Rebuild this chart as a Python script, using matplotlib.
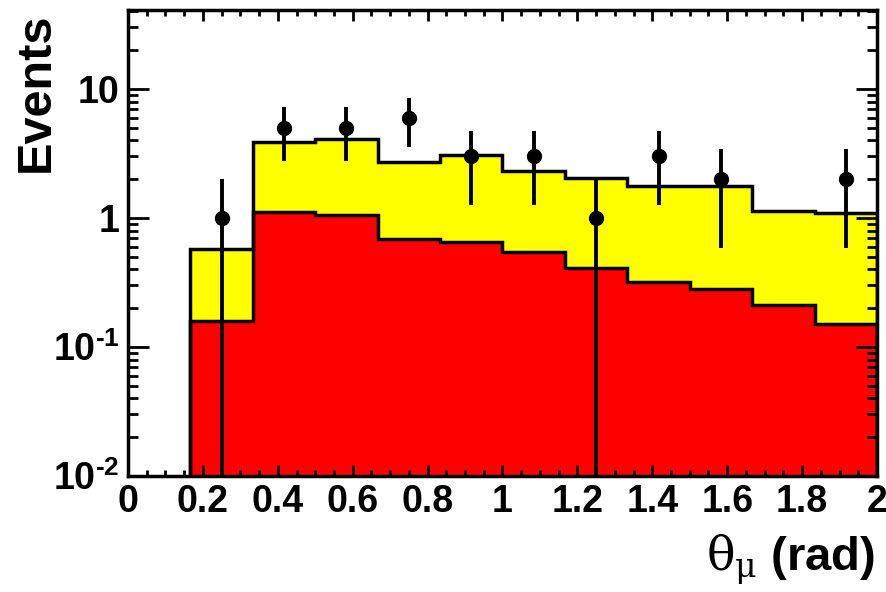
import matplotlib
matplotlib.use("Agg")
import matplotlib.pyplot as plt
from matplotlib.ticker import FixedLocator, FixedFormatter, MultipleLocator, LogLocator, NullFormatter
import numpy as np

plt.rcParams["font.family"] = ["Liberation Sans", "DejaVu Sans"]
plt.rcParams["font.weight"] = "bold"
plt.rcParams["mathtext.fontset"] = "custom"
plt.rcParams["mathtext.rm"] = "Liberation Sans:bold"
plt.rcParams["mathtext.bf"] = "Liberation Sans:bold"
plt.rcParams["mathtext.it"] = "DejaVu Serif:normal"

# ---- data ----
bin_edges = [1/6, 2/6, 3/6, 4/6, 5/6, 1.0, 7/6, 8/6, 9/6, 10/6, 11/6, 2.0]
total_mc = [0.58, 3.86, 4.07, 2.70, 3.06, 2.30, 2.04, 1.77, 1.77, 1.13, 1.10]   # yellow (stack top)
red_mc = [0.16, 1.11, 1.05, 0.69, 0.65, 0.55, 0.41, 0.32, 0.28, 0.21, 0.15]     # red component

data_x = [0.25, 5/12, 7/12, 0.75, 11/12, 13/12, 1.25, 17/12, 19/12, 23/12]
data_n = [1, 5, 5, 6, 3, 3, 1, 3, 2, 2]
data_err = [1.0, 2.24, 2.24, 2.45, 1.73, 1.73, 1.0, 1.73, 1.41, 1.41]

YMIN, YMAX = 0.01, 41

fig = plt.figure(figsize=(8.87, 5.92), dpi=100)
ax = fig.add_axes([128/887, 1 - 476/592, (877 - 128)/887, (476 - 10)/592])
ax.set_yscale("log")

base = 1e-4
ax.stairs(total_mc, bin_edges, baseline=base, fill=True, color="#ffff00", zorder=1)
ax.stairs(red_mc, bin_edges, baseline=base, fill=True, color="#ff0000", zorder=1.1)
ax.stairs(total_mc, bin_edges, baseline=base, fill=False, color="black", lw=2.5, zorder=1.2)
ax.stairs(red_mc, bin_edges, baseline=base, fill=False, color="black", lw=2.5, zorder=1.3)

# data points with errors
n = np.array(data_n, dtype=float)
e = np.array(data_err)
lo = np.maximum(n - e, 1e-4)
hi = n + e
ax.vlines(data_x, lo, hi, color="black", lw=2.8, zorder=3)
ax.plot(data_x, data_n, "o", color="black", ms=10, zorder=4)

ax.set_xlim(0, 2)
ax.set_ylim(YMIN, YMAX)

# x ticks
xt_labels = ["0", "0.2", "0.4", "0.6", "0.8", "1", "1.2", "1.4", "1.6", "1.8", "2"]
ax.set_xticks(np.arange(11) * 0.2)
ax.set_xticklabels(xt_labels)
ax.xaxis.set_minor_locator(MultipleLocator(0.05))

# y ticks
ax.yaxis.set_major_locator(FixedLocator([0.01, 0.1, 1, 10]))
ax.yaxis.set_major_formatter(FixedFormatter([r"$10^{\text{-}2}$", r"$10^{\text{-}1}$", "1", "10"]))
ax.yaxis.set_minor_locator(LogLocator(base=10, subs=np.arange(2, 10)))
ax.yaxis.set_minor_formatter(NullFormatter())

ax.tick_params(axis="both", which="both", direction="in", top=True, right=True,
               labelsize=27, width=2, color="black")
ax.tick_params(axis="x", which="major", length=8, pad=6)
ax.tick_params(axis="x", which="minor", length=4)
ax.tick_params(axis="y", which="major", length=15, pad=6)
ax.tick_params(axis="y", which="minor", length=7)
for lab in ax.get_xticklabels() + ax.get_yticklabels():
    lab.set_fontweight("bold")
for sp in ax.spines.values():
    sp.set_linewidth(2.5)
    sp.set_zorder(5)
ax.set_axisbelow(False)

fig.text(36/887, 1 - 12/592, "Events", rotation=90, ha="center", va="top",
         fontsize=35, fontweight="bold")
fig.text(875/887, 1 - 560/592, r"$\theta_{\mu}$ (rad)", ha="right", va="center",
         fontsize=34, fontweight="bold")

fig.savefig("out.png", dpi=100, facecolor="white")
